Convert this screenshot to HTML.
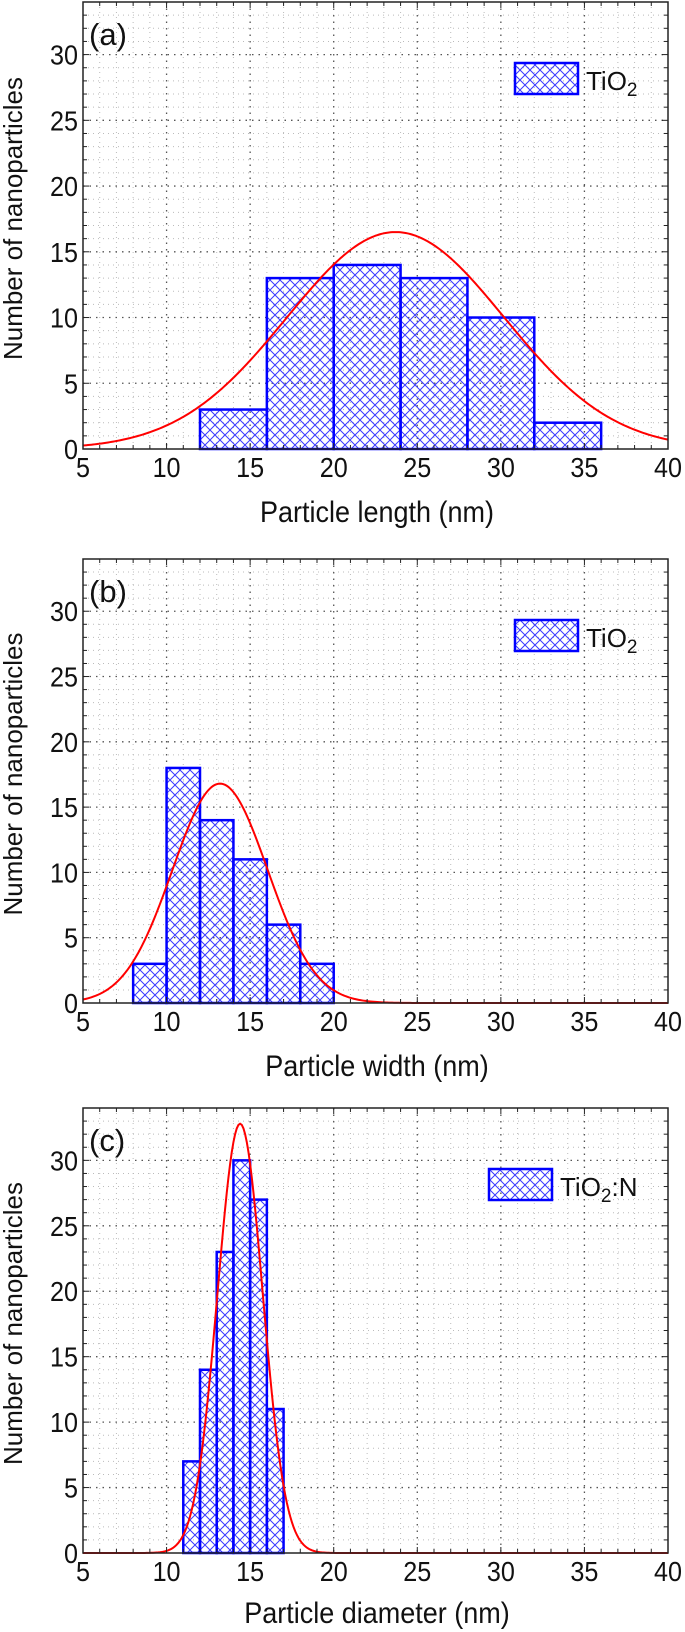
<!DOCTYPE html>
<html><head><meta charset="utf-8">
<style>
html,body{margin:0;padding:0;background:#fff;}
svg{display:block;font-family:"Liberation Sans",sans-serif;}
</style></head>
<body>
<svg id="fig" width="685" height="1632" viewBox="0 0 685 1632" xmlns="http://www.w3.org/2000/svg">
<defs>
<pattern id="hatch" patternUnits="userSpaceOnUse" width="10" height="10">
<path d="M0,0 L10,10 M10,0 L0,10 M-1,9 L1,11 M9,-1 L11,1 M-1,1 L1,-1 M9,11 L11,9" stroke="#3a3aff" stroke-width="1" fill="none"/>
</pattern>
</defs>
</svg>
<script>
// Panel (a) data
const aBinStarts=[12,16,20,24,28,32];
const aCounts=[3,13,14,13,10,2];
const aBinWidth=4;
const aFit=[23.7,16.5,6.5]; // mean, peak, sigma
// Panel (b) data
const bBinStarts=[8,10,12,14,16,18];
const bCounts=[3,18,14,11,6,3];
const bBinWidth=2;
const bFit=[13.2,16.8,2.85];
// Panel (c) data
const cBinStarts=[11,12,13,14,15,16];
const cCounts=[7,14,23,30,27,11];
const cBinWidth=1;
const cFit=[14.4,32.8,1.35];
const xTicks=[5,10,15,20,25,30,35,40];
const yTicks=[0,5,10,15,20,25,30];

const svg=document.getElementById('fig');
const NS='http://www.w3.org/2000/svg';
function mk(tag,attrs,parent){const e=document.createElementNS(NS,tag);for(const k in attrs)e.setAttribute(k,attrs[k]);(parent||svg).appendChild(e);return e;}
function squeeze(t,f){const L=t.getComputedTextLength();if(L>0){t.setAttribute('textLength',(L*f).toFixed(1));t.setAttribute('lengthAdjust','spacingAndGlyphs');}}

const X0=83,X1=668,XMIN=5,XMAX=40,YMAX=34;
const panels=[
 {key:'a',top:2,bottom:449,starts:aBinStarts,counts:aCounts,w:aBinWidth,fit:aFit,xlabel:'Particle length (nm)',legend:'TiO',suffix:'',lx:515,xoff:73},
 {key:'b',top:559,bottom:1003,starts:bBinStarts,counts:bCounts,w:bBinWidth,fit:bFit,xlabel:'Particle width (nm)',legend:'TiO',suffix:'',lx:515,xoff:73},
 {key:'c',top:1108,bottom:1553,starts:cBinStarts,counts:cCounts,w:cBinWidth,fit:cFit,xlabel:'Particle diameter (nm)',legend:'TiO',suffix:':N',lx:489,xoff:70}
];
panels.forEach(p=>{
 const g=mk('g',{});
 
 
 const sx=v=>X0+(v-XMIN)/(XMAX-XMIN)*(X1-X0);
 const sy=v=>p.bottom-v/YMAX*(p.bottom-p.top);
 for(let v=XMIN+1;v<XMAX;v++){ if(v%5===0)continue;
  const l=mk('line',{x1:sx(v),x2:sx(v),y1:p.top,y2:p.bottom,stroke:'#bbb','stroke-width':1,'stroke-dasharray':'1,4'},g);
   }
 for(let v=1;v<YMAX;v++){ if(v%5===0)continue;
  const l=mk('line',{x1:X0,x2:X1,y1:sy(v),y2:sy(v),stroke:'#bbb','stroke-width':1,'stroke-dasharray':'1,4'},g);
   }
 xTicks.forEach(v=>{ if(v===XMIN||v===XMAX)return;
  const l=mk('line',{x1:sx(v),x2:sx(v),y1:p.top,y2:p.bottom,stroke:'#555','stroke-width':1.3,'stroke-dasharray':'1.5,5'},g);
   });
 yTicks.forEach(v=>{ if(v===0)return;
  const l=mk('line',{x1:X0,x2:X1,y1:sy(v),y2:sy(v),stroke:'#555','stroke-width':1.3,'stroke-dasharray':'1.5,5'},g);
   });
 p.starts.forEach((s,i)=>{
  const r=mk('rect',{x:sx(s),y:sy(p.counts[i]),width:sx(s+p.w)-sx(s),height:p.bottom-sy(p.counts[i]),fill:'url(#hatch)',stroke:'#0000ff','stroke-width':2.5},g);
   
 });
 let d='';
 for(let k=0;k<=350;k++){const x=XMIN+k*(XMAX-XMIN)/350;const y=p.fit[1]*Math.exp(-Math.pow(x-p.fit[0],2)/(2*p.fit[2]*p.fit[2]));d+=(k?'L':'M')+sx(x).toFixed(2)+','+sy(y).toFixed(2);}
 const c=mk('path',{d:d,fill:'none',stroke:'#ff0000','stroke-width':2},g);
  
 const fr=mk('rect',{x:X0,y:p.top,width:X1-X0,height:p.bottom-p.top,fill:'none',stroke:'#222','stroke-width':1.5},g);
  
 for(let v=XMIN+1;v<XMAX;v++){const len=v%5===0?6:4;
  mk('line',{x1:sx(v),x2:sx(v),y1:p.bottom,y2:p.bottom-len,stroke:'#222','stroke-width':1},g);
  mk('line',{x1:sx(v),x2:sx(v),y1:p.top,y2:p.top+len,stroke:'#222','stroke-width':1},g);}
 for(let v=1;v<YMAX;v++){const len=v%5===0?6:4;
  mk('line',{x1:X0,x2:X0+len,y1:sy(v),y2:sy(v),stroke:'#222','stroke-width':1},g);
  mk('line',{x1:X1,x2:X1-len,y1:sy(v),y2:sy(v),stroke:'#222','stroke-width':1},g);}
 xTicks.forEach(v=>{const t=mk('text',{x:sx(v),y:p.bottom+28,'text-anchor':'middle','font-size':28,fill:'#111'},g);t.textContent=v;
   squeeze(t,0.9);});
 yTicks.forEach(v=>{const t=mk('text',{x:X0-5,y:sy(v)+10,'text-anchor':'end','font-size':28,fill:'#111'},g);t.textContent=v;
   squeeze(t,0.9);});
 const xt=mk('text',{x:377,y:p.bottom+p.xoff,'text-anchor':'middle','font-size':30,fill:'#111'},g);xt.textContent=p.xlabel;
  squeeze(xt,0.9);
 const cy=(p.top+p.bottom)/2-7;
 const yt=mk('text',{x:0,y:0,'text-anchor':'middle','font-size':26,fill:'#111',transform:'translate(22,'+cy+') rotate(-90)'},g);yt.textContent='Number of nanoparticles';
  
 yt.setAttribute('textLength','283');yt.setAttribute('lengthAdjust','spacingAndGlyphs');
 const pl=mk('text',{x:89,y:p.top+43,'font-size':31,fill:'#111'},g);pl.textContent='('+p.key+')';
  
 const ly=p.top+61;
 const lb=mk('rect',{x:p.lx,y:ly,width:63,height:31,fill:'url(#hatch)',stroke:'#0000ff','stroke-width':2.5},g);
  
 const lt=mk('text',{x:p.lx+71,y:ly+27,'font-size':26,fill:'#111'},g);
  
 lt.appendChild(document.createTextNode(p.legend));
 const sub=mk('tspan',{'font-size':19,dy:6},lt);sub.textContent='2';
 if(p.suffix){const s2=mk('tspan',{dy:-6},lt);s2.textContent=p.suffix;}
});
</script>
</body></html>
